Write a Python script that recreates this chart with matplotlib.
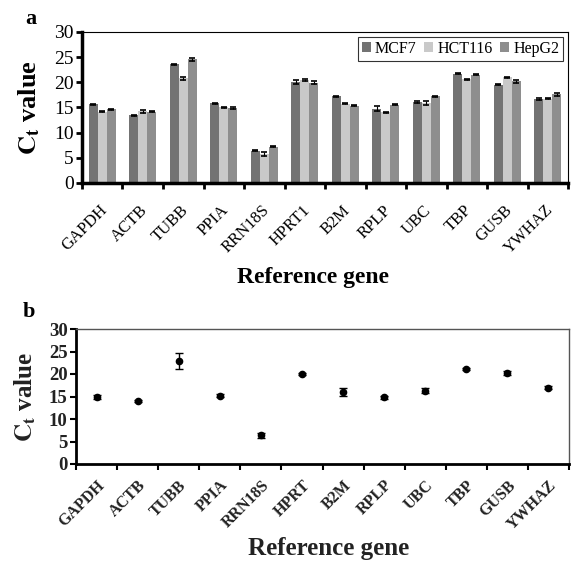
import matplotlib
matplotlib.use("Agg")
import matplotlib.pyplot as plt
import matplotlib.transforms as mtransforms
import numpy as np

genes_a = ["GAPDH", "ACTB", "TUBB", "PPIA", "RRN18S", "HPRT1", "B2M", "RPLP", "UBC", "TBP", "GUSB", "YWHAZ"]
genes_b = ["GAPDH", "ACTB", "TUBB", "PPIA", "RRN18S", "HPRT", "B2M", "RPLP", "UBC", "TBP", "GUSB", "YWHAZ"]
series = ["MCF7", "HCT116", "HepG2"]
mcf7 = [15.6, 13.5, 23.6, 15.8, 6.4, 20.0, 17.2, 14.8, 16.0, 21.7, 19.5, 16.7]
hct116 = [14.2, 14.3, 20.8, 15.0, 5.8, 20.5, 15.7, 14.1, 15.9, 20.6, 21.0, 16.7]
hepg2 = [14.7, 14.2, 24.6, 14.9, 7.2, 19.9, 15.3, 15.5, 17.2, 21.5, 20.2, 17.6]
mcf7_err = [0.15, 0.1, 0.1, 0.1, 0.1, 0.4, 0.1, 0.4, 0.2, 0.1, 0.1, 0.15]
hct116_err = [0.1, 0.3, 0.3, 0.1, 0.4, 0.15, 0.1, 0.1, 0.4, 0.15, 0.15, 0.1]
hepg2_err = [0.1, 0.1, 0.3, 0.2, 0.1, 0.3, 0.1, 0.1, 0.1, 0.1, 0.3, 0.3]
mean_b = [14.85, 14.0, 22.9, 15.2, 6.4, 20.0, 16.0, 14.8, 16.3, 21.1, 20.2, 17.0]
err_b = [0.4, 0.3, 1.7, 0.3, 0.6, 0.3, 0.8, 0.4, 0.6, 0.3, 0.5, 0.3]

colors = ["#737373", "#c9c9c9", "#8e8e8e"]

plt.rcParams["font.family"] = ["Liberation Serif", "DejaVu Serif"]
plt.rcParams["mathtext.fontset"] = "stix"

fig = plt.figure(figsize=(5.71, 5.63), dpi=100)


def shift_labels(labels, dx_px, dy_px):
    off = mtransforms.ScaledTranslation(dx_px / 100.0, dy_px / 100.0, fig.dpi_scale_trans)
    for t in labels:
        t.set_transform(t.get_transform() + off)


# ---------- Panel a ----------
ax = fig.add_axes([82/571, 1-183/563, 486/571, 151/563])
x = np.arange(len(genes_a))
w = 0.22
for i, (vals, errs, c, lab) in enumerate(zip([mcf7, hct116, hepg2], [mcf7_err, hct116_err, hepg2_err], colors, series)):
    ax.bar(x + (i-1)*w, vals, width=w, color=c, edgecolor="none", label=lab, zorder=2)
    ax.errorbar(x + (i-1)*w, vals, yerr=errs, fmt="none", ecolor="black", elinewidth=0.8,
                capsize=2.5, capthick=1.2, zorder=3)
ax.set_xlim(-0.5, len(genes_a)-0.5)
ax.set_ylim(0, 30)
ax.set_yticks(range(0, 31, 5))
ax.set_xticks(np.arange(-0.5, len(genes_a), 1.0))
ax.set_xticklabels([])
ax.set_xticks(x, minor=True)
ax.set_xticklabels(genes_a, minor=True, rotation=45, ha="right", rotation_mode="anchor", fontsize=12)
ax.tick_params(axis="x", which="minor", length=0, pad=3)
ax.tick_params(axis="x", which="major", length=4, width=2, direction="out")
ax.tick_params(axis="y", length=4, width=2, direction="out", labelsize=14, pad=2)
shift_labels(ax.get_xticklabels(minor=True), -3, -15)
for s in ["left", "bottom"]:
    ax.spines[s].set_linewidth(2.5)
for s in ["top", "right"]:
    ax.spines[s].set_linewidth(0.8)
leg = ax.legend(loc="upper right", ncol=3, fontsize=11.5, frameon=True, fancybox=False,
                edgecolor="black", handlelength=0.55, handleheight=0.55, handletextpad=0.25,
                columnspacing=0.5, borderpad=0.25, borderaxespad=0.3)
leg.get_frame().set_linewidth(0.8)
ax.set_ylabel(r"$\mathbf{C_t}$ value", fontsize=19, fontweight="bold", labelpad=9)
fig.text(313/571, 1-278/563, "Reference gene", fontsize=17, fontweight="bold", ha="center", va="center")
fig.text(31/571, 1-19/563, "a", fontsize=16, fontweight="bold", ha="center", va="center")

# ---------- Panel b ----------
bx = fig.add_axes([76/571, 1-464/563, 493/571, 135/563])
xb = np.arange(len(genes_b))
bx.errorbar(xb, mean_b, yerr=err_b, fmt="o", color="black", markersize=4.5, elinewidth=1.0,
            capsize=3, capthick=1.0, zorder=3)
bx.set_xlim(-0.5, len(genes_b)-0.5)
bx.set_ylim(0, 30)
bx.set_yticks(range(0, 31, 5))
bx.set_xticks(np.arange(-0.5, len(genes_b), 1.0))
bx.set_xticklabels([])
bx.set_xticks(xb, minor=True)
bx.set_xticklabels(genes_b, minor=True, rotation=45, ha="right", rotation_mode="anchor",
                   fontsize=11.5, fontweight="bold", color="#222222")
bx.tick_params(axis="x", which="minor", length=0, pad=3)
bx.tick_params(axis="x", which="major", length=4, width=1.5, direction="out")
bx.tick_params(axis="y", length=4, width=1.5, direction="out", labelsize=13.5, pad=2)
shift_labels(bx.get_xticklabels(minor=True), 0, -9)
for t in bx.get_yticklabels():
    t.set_fontweight("bold")
    t.set_color("#222222")
for s in ["left", "bottom"]:
    bx.spines[s].set_linewidth(2.0)
for s in ["top", "right"]:
    bx.spines[s].set_linewidth(1.0)
    bx.spines[s].set_color("#555555")
bx.set_ylabel(r"$\mathbf{C_t}$ value", fontsize=18, fontweight="bold", labelpad=8, color="#222222")
fig.text(329/571, 1-549/563, "Reference gene", fontsize=18, fontweight="bold", ha="center", va="center", color="#222222")
fig.text(29/571, 1-312/563, "b", fontsize=16, fontweight="bold", ha="center", va="center")

fig.savefig("out.png", dpi=100)
